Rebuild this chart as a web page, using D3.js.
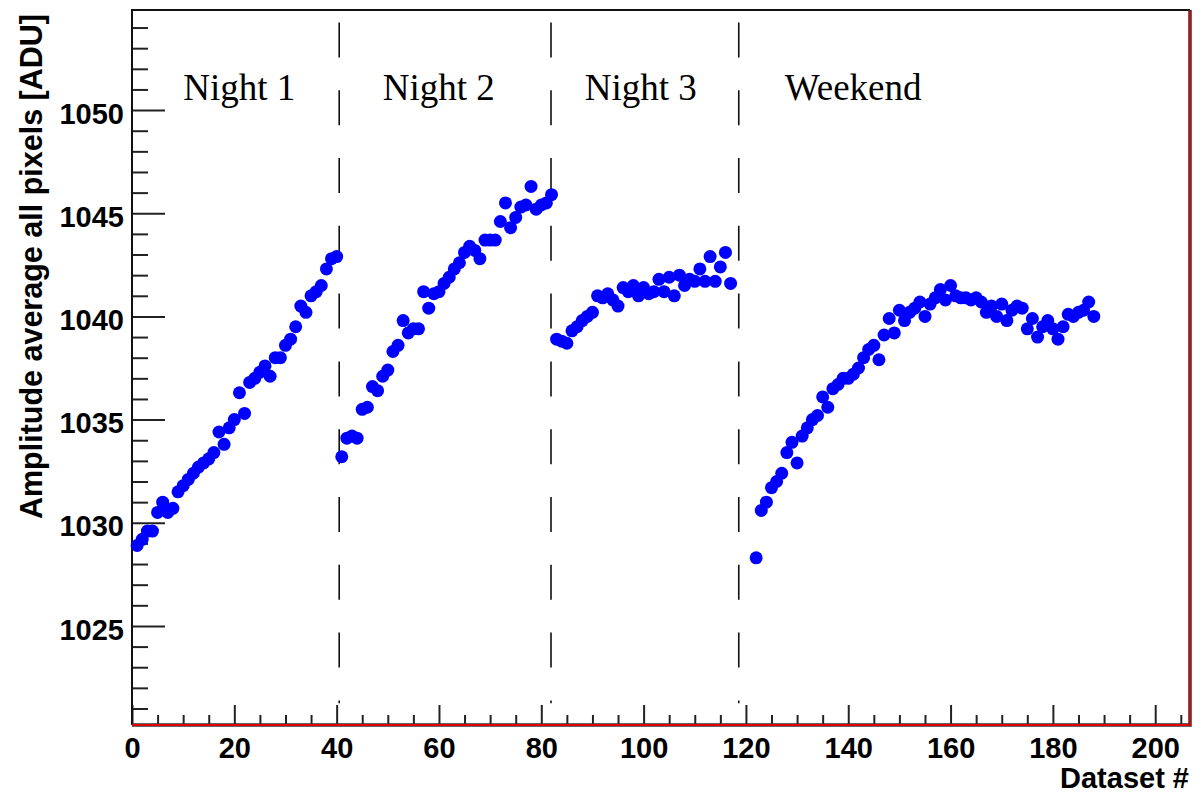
<!DOCTYPE html>
<html>
<head>
<meta charset="utf-8">
<script src="https://cdn.jsdelivr.net/npm/d3@7"></script>
<style>
  body { margin: 0; background: #fff; }
  svg { display: block; }
  .tick text { font-family: "Liberation Sans", Arial, sans-serif; font-weight: bold; font-size: 29px; fill: #000; }
</style>
</head>
<body>
<svg id="chart" width="1203" height="796"></svg>
<script>
// Amplitude average of all pixels per dataset
const night1Start = 1;
const night1 = [1028.9, 1029.2, 1029.6, 1029.6, 1030.5, 1031.0, 1030.5, 1030.7, 1031.5, 1031.8,
  1032.1, 1032.4, 1032.7, 1032.9, 1033.1, 1033.4, 1034.4, 1033.8, 1034.6, 1035.0,
  1036.3, 1035.3, 1036.8, 1037.0, 1037.3, 1037.6, 1037.1, 1038.0, 1038.0, 1038.6,
  1038.9, 1039.5, 1040.5, 1040.2, 1041.0, 1041.2, 1041.5, 1042.3, 1042.8, 1042.9];

const night2Start = 41;
const night2 = [1033.2, 1034.1, 1034.2, 1034.1, 1035.5, 1035.6, 1036.6, 1036.4, 1037.1, 1037.4,
  1038.3, 1038.6, 1039.8, 1039.2, 1039.4, 1039.4, 1041.2, 1040.4, 1041.1, 1041.2,
  1041.6, 1041.9, 1042.3, 1042.6, 1043.1, 1043.4, 1043.2, 1042.8, 1043.7, 1043.7,
  1043.7, 1044.6, 1045.5, 1044.3, 1044.8, 1045.3, 1045.4, 1046.3, 1045.2, 1045.4,
  1045.5, 1045.9];

const night3Start = 83;
const night3 = [1038.9, 1038.8, 1038.7, 1039.3, 1039.5, 1039.8, 1040.0, 1040.2, 1041.0, 1040.9,
  1041.1, 1040.8, 1040.5, 1041.4, 1041.2, 1041.5, 1041.0, 1041.4, 1041.1, 1041.2,
  1041.8, 1041.2, 1041.9, 1041.0, 1042.0, 1041.5, 1041.8, 1041.7, 1042.3, 1041.7,
  1042.9, 1041.7, 1042.4, 1043.1, 1041.6];

const weekendStart = 122;
const weekend = [1028.3, 1030.6, 1031.0, 1031.7, 1032.0, 1032.4, 1033.4, 1033.9, 1032.9, 1034.2,
  1034.6, 1035.0, 1035.2, 1036.1, 1035.6, 1036.5, 1036.7, 1037.0, 1037.0, 1037.2,
  1037.5, 1038.0, 1038.4, 1038.6, 1037.9, 1039.1, 1039.9, 1039.2, 1040.3, 1039.8,
  1040.2, 1040.4, 1040.7, 1040.0, 1040.6, 1040.9, 1041.3, 1040.8, 1041.5, 1041.0,
  1040.9, 1040.9, 1040.8, 1040.9, 1040.7, 1040.2, 1040.5, 1040.0, 1040.6, 1039.8,
  1040.3, 1040.5, 1040.4, 1039.4, 1039.9, 1039.0, 1039.5, 1039.8, 1039.4, 1038.9,
  1039.5, 1040.1, 1040.0, 1040.2, 1040.3, 1040.7, 1040.0];

const periodLabels = ['Night 1', 'Night 2', 'Night 3', 'Weekend'];
const periodLabelX = [10, 49, 88.5, 127.6];
const dividerX = [40.5, 81.9, 118.6];

const xMajorTicks = d3.range(0, 201, 20);
const xMinorTicks = d3.range(0, 206, 5).filter(d => d % 20 !== 0);
const yMajorTicks = d3.range(1025, 1051, 5);
const yMinorTicks = d3.range(1021, 1055).filter(d => d % 5 !== 0);

const W = 1203, H = 796;
const frame = { left: 132, right: 1190, top: 10, bottom: 725 };

const svg = d3.select('#chart');
svg.append('rect').attr('width', W).attr('height', H).attr('fill', '#fff');

const x = d3.scaleLinear().domain([0, 206.8]).range([frame.left, frame.right]);
const y = d3.scaleLinear().domain([1020.2, 1054.85]).range([frame.bottom, frame.top]);

// flatten the four periods into one point list
const points = [];
[[night1Start, night1], [night2Start, night2], [night3Start, night3], [weekendStart, weekend]]
  .forEach(([start, vals]) => vals.forEach((v, i) => points.push({ x: start + i, v })));

// axes, ticks pointing into the frame
const yAxisG = svg.append('g').attr('transform', `translate(${frame.left},0)`);
yAxisG.append('g')
  .call(d3.axisLeft(y).tickValues(yMinorTicks).tickSizeInner(-16).tickSizeOuter(0).tickFormat(''))
  .call(g => g.select('.domain').remove());
yAxisG.append('g')
  .call(d3.axisLeft(y).tickValues(yMajorTicks).tickSizeInner(-33).tickSizeOuter(0).tickPadding(8).tickFormat(d3.format('d')))
  .call(g => g.select('.domain').remove())
  .call(g => g.selectAll('text').attr('dy', '0.45em'));

const xAxisG = svg.append('g').attr('transform', `translate(0,${frame.bottom})`);
xAxisG.append('g')
  .call(d3.axisBottom(x).tickValues(xMinorTicks).tickSizeInner(-10).tickSizeOuter(0).tickFormat(''))
  .call(g => g.select('.domain').remove());
xAxisG.append('g')
  .call(d3.axisBottom(x).tickValues(xMajorTicks).tickSizeInner(-20).tickSizeOuter(0).tickPadding(12).tickFormat(d3.format('d')))
  .call(g => g.select('.domain').remove());

svg.selectAll('.tick line').attr('stroke', '#222').attr('stroke-width', 2);

// frame: black top/left, red bottom/right
svg.append('path')
  .attr('d', `M${frame.left},${frame.bottom}V${frame.top}H${frame.right}`)
  .attr('fill', 'none').attr('stroke', '#111').attr('stroke-width', 2);
svg.append('path')
  .attr('d', `M${frame.left},${frame.bottom}H${frame.right}V${frame.top}`)
  .attr('fill', 'none').attr('stroke', '#333').attr('stroke-width', 3.5);
svg.append('path')
  .attr('d', `M${frame.left},${frame.bottom}H${frame.right}V${frame.top + 1}`)
  .attr('fill', 'none').attr('stroke', '#e00000').attr('stroke-width', 1.8);

// period dividers
svg.append('g').selectAll('line')
  .data(dividerX)
  .join('line')
  .attr('x1', d => x(d)).attr('x2', d => x(d))
  .attr('y1', y(1054.25)).attr('y2', y(1021.25))
  .attr('stroke', '#111').attr('stroke-width', 1.6)
  .attr('stroke-dasharray', '35,32.8');

// period labels
svg.append('g').selectAll('text')
  .data(periodLabels)
  .join('text')
  .attr('x', (d, i) => x(periodLabelX[i]))
  .attr('y', y(1050.5))
  .attr('font-family', '"Liberation Serif", "Times New Roman", serif')
  .attr('font-size', 37)
  .attr('fill', '#000')
  .text(d => d);

// data points
svg.append('g').selectAll('circle')
  .data(points)
  .join('circle')
  .attr('cx', d => x(d.x))
  .attr('cy', d => y(d.v))
  .attr('r', 6.5)
  .attr('fill', '#0000ff');

// axis titles
svg.append('text')
  .attr('transform', `translate(42,14) rotate(-90)`)
  .attr('text-anchor', 'end')
  .attr('font-family', '"Liberation Sans", Arial, sans-serif')
  .attr('font-weight', 'bold')
  .attr('font-size', 30.5)
  .text('Amplitude average all pixels [ADU]');

svg.append('text')
  .attr('x', 1189)
  .attr('y', 788)
  .attr('text-anchor', 'end')
  .attr('font-family', '"Liberation Sans", Arial, sans-serif')
  .attr('font-weight', 'bold')
  .attr('font-size', 29)
  .text('Dataset #');
</script>
</body>
</html>
